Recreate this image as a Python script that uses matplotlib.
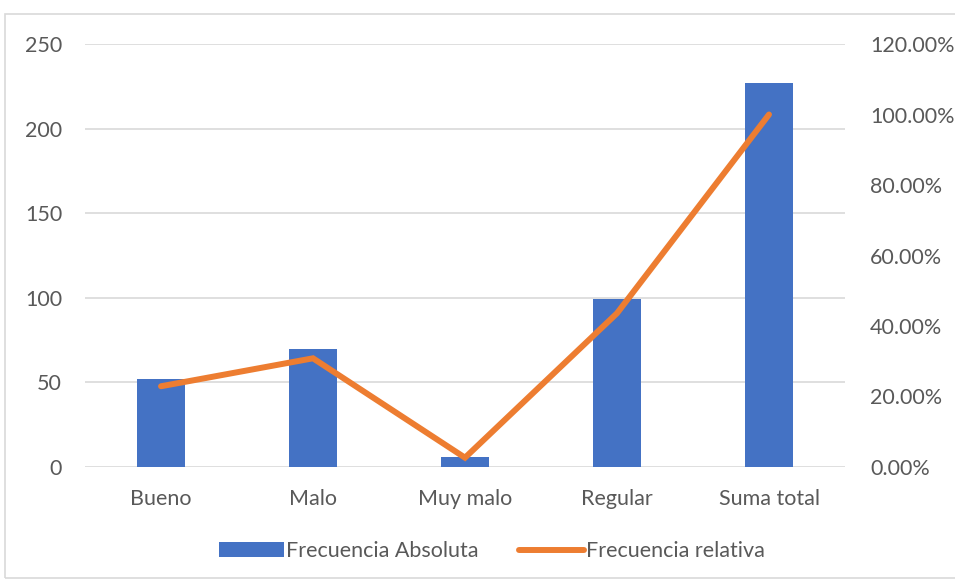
import matplotlib
matplotlib.use('Agg')
import matplotlib.pyplot as plt
from matplotlib.patches import Rectangle
from matplotlib.ticker import FuncFormatter

categorias = ['Bueno', 'Malo', 'Muy malo', 'Regular', 'Suma total']
frec_absoluta = [52, 70, 6, 99, 227]
frec_relativa = [52 / 227, 70 / 227, 6 / 227, 99 / 227, 1.0]

azul = '#4472C4'
naranja = '#ED7D31'
gris_texto = '#595959'
gris_linea = '#D9D9D9'
tam = 15.5

plt.rcParams['font.family'] = ['Lato', 'DejaVu Sans']
plt.rcParams['font.size'] = tam

fig = plt.figure(figsize=(9.55, 5.82), dpi=100)
fig.patches.append(Rectangle((5 / 955, 4 / 582), 1.0, 564 / 582, transform=fig.transFigure,
                             fill=False, edgecolor=gris_linea, linewidth=1.2))

ax = fig.add_axes([85 / 955, 1 - 467 / 582, 760 / 955, 423 / 582])
x = range(len(categorias))
barras = ax.bar(x, frec_absoluta, width=0.31, color=azul, zorder=2, label='Frecuencia Absoluta')
ax.set_xlim(-0.5, len(categorias) - 0.5)
ax.set_ylim(0, 250)
ax.set_yticks(range(0, 251, 50))
ax.set_xticks(list(x))
ax.set_xticklabels(categorias)
ax.grid(axis='y', color=gris_linea, linewidth=1.2, zorder=0)
for s in ax.spines.values():
    s.set_visible(False)
ax.tick_params(axis='both', length=0, colors=gris_texto, labelsize=tam)
ax.tick_params(axis='x', pad=16)
ax.tick_params(axis='y', pad=16.5)

ax2 = ax.twinx()
linea, = ax2.plot(list(x), frec_relativa, color=naranja, linewidth=4.3,
                  solid_capstyle='round', solid_joinstyle='miter', zorder=3,
                  label='Frecuencia relativa')
ax2.set_ylim(0, 1.2)
ax2.set_yticks([i * 0.2 for i in range(7)])
ax2.yaxis.set_major_formatter(FuncFormatter(lambda v, p: f'{v * 100:.2f}%'))
for s in ax2.spines.values():
    s.set_visible(False)
ax2.tick_params(axis='y', length=0, colors=gris_texto, labelsize=tam, pad=18)

leg = fig.legend([barras, linea], ['Frecuencia Absoluta', 'Frecuencia relativa'],
                 loc='center', bbox_to_anchor=(492 / 955, 1 - 551 / 582), ncol=2,
                 frameon=False, handlelength=3.0, handleheight=0.65, columnspacing=1.9,
                 handletextpad=0.1, fontsize=tam)
for t in leg.get_texts():
    t.set_color(gris_texto)

fig.savefig('out.png', dpi=100)
